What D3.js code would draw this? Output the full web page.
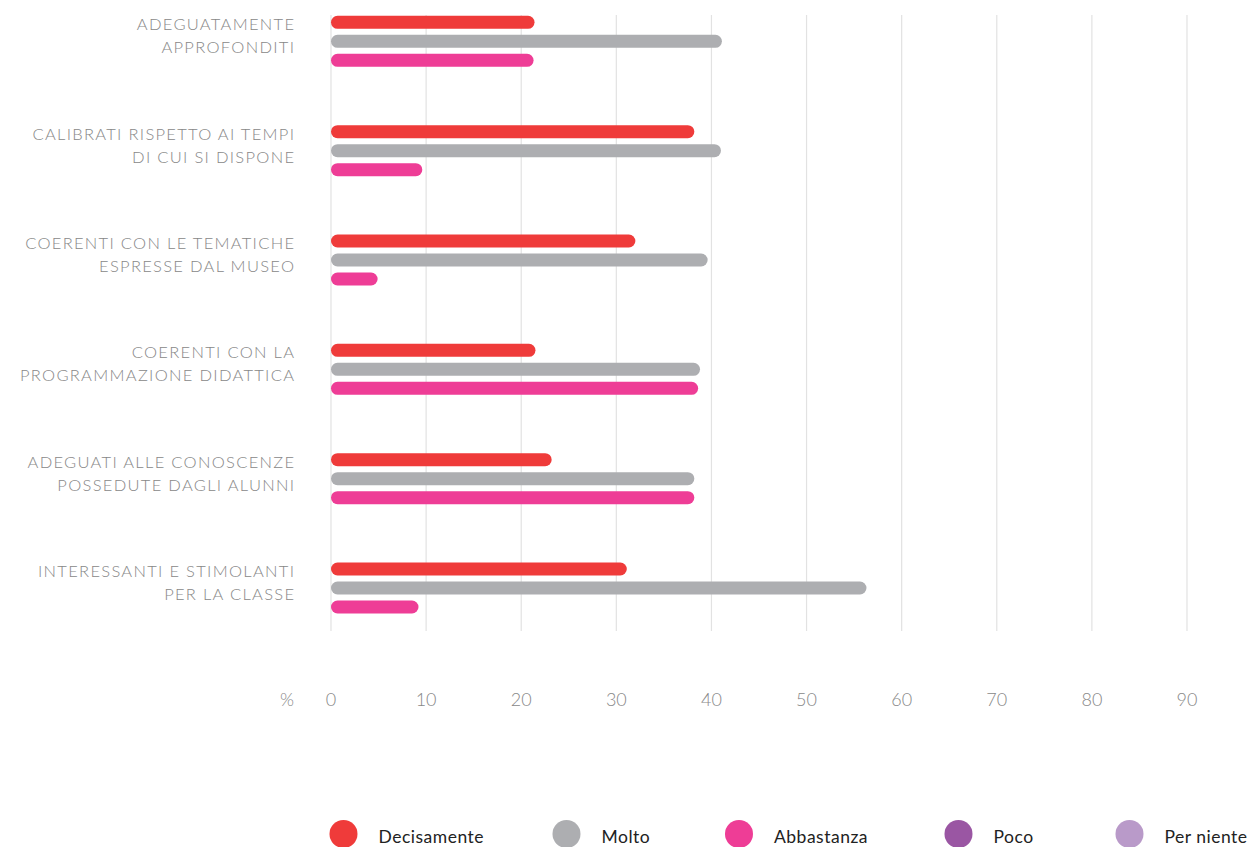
<!DOCTYPE html>
<html><head><meta charset="utf-8">
<script src="https://cdn.jsdelivr.net/npm/d3@7"></script>
<style>
html,body{margin:0;padding:0;background:#fff;}
svg{display:block;}
</style></head>
<body>
<svg id="chart" width="1253" height="847"></svg>
<script>
const categories = [
  ["ADEGUATAMENTE", "APPROFONDITI"],
  ["CALIBRATI RISPETTO AI TEMPI", "DI CUI SI DISPONE"],
  ["COERENTI CON LE TEMATICHE", "ESPRESSE DAL MUSEO"],
  ["COERENTI CON LA", "PROGRAMMAZIONE DIDATTICA"],
  ["ADEGUATI ALLE CONOSCENZE", "POSSEDUTE DAGLI ALUNNI"],
  ["INTERESSANTI E STIMOLANTI", "PER LA CLASSE"]
];
const seriesNames = ["Decisamente", "Molto", "Abbastanza", "Poco", "Per niente"];
const seriesColors = ["#ef3b3a", "#adaeb1", "#ee3d96", "#9a56a3", "#b99ac9"];
const decisamente = [21.4, 38.2, 32.0, 21.5, 23.2, 31.1];
const molto       = [41.1, 41.0, 39.6, 38.8, 38.2, 56.3];
const abbastanza  = [21.3, 9.6, 4.9, 38.6, 38.2, 9.2];
const xTicks = [0, 10, 20, 30, 40, 50, 60, 70, 80, 90];

const drawnSeries = [decisamente, molto, abbastanza];

const svg = d3.select("#chart");
const x = d3.scaleLinear().domain([0, 90]).range([331, 1187]);
const y = d3.scaleLinear().domain([0, 5]).range([41.3, 588]);
const barH = 13, barGap = 19;
const font = "Lato, 'Open Sans', sans-serif";

// gridlines
svg.append("g").selectAll("line").data(xTicks).join("line")
  .attr("x1", d => x(d)).attr("x2", d => x(d))
  .attr("y1", 15).attr("y2", 631)
  .attr("stroke", "#e2e2e2").attr("stroke-width", 1.2);

// bars
categories.forEach((c, i) => {
  drawnSeries.forEach((s, k) => {
    const cy = y(i) + (k - 1) * barGap;
    svg.append("rect")
      .attr("x", x(0)).attr("y", cy - barH / 2)
      .attr("width", x(s[i]) - x(0)).attr("height", barH)
      .attr("rx", barH / 2).attr("ry", barH / 2)
      .attr("fill", seriesColors[k]);
  });
  const t = svg.append("text")
    .attr("text-anchor", "end")
    .attr("font-family", font).attr("font-weight", 300)
    .attr("font-size", 16.5).attr("fill", "#888888")
    .attr("letter-spacing", 1.3);
  c.forEach((line, j) => {
    t.append("tspan").attr("x", 295.3)
      .attr("y", y(i) - barGap + 8 + j * 23).text(line);
  });
});

// x axis labels
svg.append("g").selectAll("text").data(xTicks).join("text")
  .attr("x", d => x(d)).attr("y", 706)
  .attr("text-anchor", "middle")
  .attr("font-family", font).attr("font-weight", 300)
  .attr("font-size", 18).attr("fill", "#888888")
  .text(d => d);
svg.append("text").attr("x", 287).attr("y", 706)
  .attr("text-anchor", "middle")
  .attr("font-family", font).attr("font-weight", 300)
  .attr("font-size", 18).attr("fill", "#888888").text("%");

// legend
const legendX = [343.5, 566.5, 739, 958.5, 1129.5];
const lg = svg.append("g").selectAll("g").data(seriesNames).join("g")
  .attr("transform", (d, i) => `translate(${legendX[i]},834)`);
lg.append("circle").attr("r", 14).attr("fill", (d, i) => seriesColors[i]);
lg.append("text").attr("x", 35).attr("y", 8.8)
  .attr("font-family", font).attr("font-weight", 400)
  .attr("font-size", 17.5).attr("letter-spacing", 0.5)
  .attr("fill", "#222").text(d => d);
</script>
</body></html>
